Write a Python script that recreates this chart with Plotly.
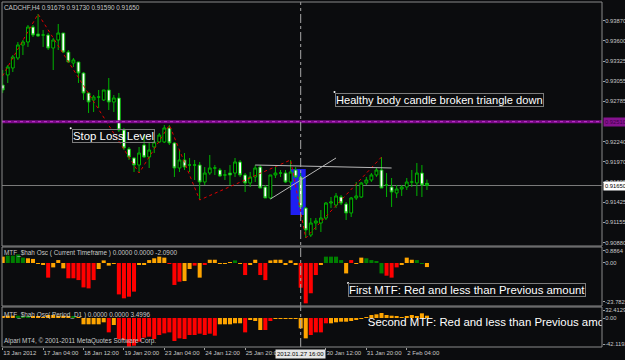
import plotly.graph_objects as go

# ---------------- data ----------------
symbol = "CADCHF,H4"
bars = list(range(85))
open_ = [0.93004, 0.93139, 0.93233, 0.93368, 0.93543, 0.93583, 0.93785, 0.93691, 0.93677, 0.93677,
         0.93502, 0.93610, 0.93704, 0.93448, 0.93300, 0.93314, 0.93165, 0.92896, 0.92802, 0.92842,
         0.92802, 0.92937, 0.92775, 0.92829, 0.92398, 0.92142, 0.92021, 0.91926, 0.92196, 0.92034,
         0.92169, 0.92236, 0.92236, 0.92425, 0.92223, 0.91886, 0.91994, 0.91926, 0.91926, 0.91926,
         0.91697, 0.91818, 0.91886, 0.91859, 0.91792, 0.91818, 0.91818, 0.91967, 0.91792, 0.91684,
         0.91765, 0.91899, 0.91630, 0.91482, 0.91792, 0.91818, 0.91818, 0.91697, 0.91859, 0.91765,
         0.91347, 0.90983, 0.91145, 0.91145, 0.91212, 0.91414, 0.91387, 0.91495, 0.91401, 0.91280,
         0.91482, 0.91495, 0.91684, 0.91724, 0.91792, 0.91859, 0.91657, 0.91630, 0.91549, 0.91603,
         0.91630, 0.91697, 0.91684, 0.91818, 0.91679]
high = [0.93206, 0.93273, 0.93408, 0.93583, 0.93610, 0.93812, 0.93812, 0.93960, 0.93745, 0.93704,
        0.93637, 0.93826, 0.93704, 0.93475, 0.93368, 0.93314, 0.93179, 0.92910, 0.92869, 0.92937,
        0.92937, 0.93098, 0.92869, 0.92896, 0.92425, 0.92169, 0.92034, 0.92169, 0.92330, 0.92223,
        0.92290, 0.92357, 0.92465, 0.92465, 0.92236, 0.92128, 0.92088, 0.92021, 0.91994, 0.91967,
        0.91899, 0.92061, 0.91926, 0.91886, 0.91859, 0.91926, 0.92021, 0.91994, 0.91818, 0.91832,
        0.91926, 0.91926, 0.91657, 0.91792, 0.91899, 0.91859, 0.91859, 0.91994, 0.91899, 0.91818,
        0.91361, 0.91212, 0.91212, 0.91320, 0.91428, 0.91495, 0.91549, 0.91522, 0.91428, 0.91495,
        0.91697, 0.91697, 0.91765, 0.91818, 0.91886, 0.92034, 0.91818, 0.91751, 0.91657, 0.91657,
        0.91751, 0.91859, 0.91953, 0.91926, 0.91730]
low = [0.92896, 0.93031, 0.93179, 0.93341, 0.93408, 0.93516, 0.93650, 0.93650, 0.93516, 0.93475,
       0.93206, 0.93475, 0.93435, 0.93300, 0.93246, 0.93031, 0.92802, 0.92627, 0.92640, 0.92694,
       0.92788, 0.92667, 0.92640, 0.92371, 0.92128, 0.91994, 0.91832, 0.91818, 0.92021, 0.91886,
       0.92088, 0.92223, 0.92223, 0.92196, 0.91765, 0.91832, 0.91859, 0.91832, 0.91724, 0.91455,
       0.91657, 0.91792, 0.91792, 0.91765, 0.91724, 0.91657, 0.91765, 0.91765, 0.91563, 0.91630,
       0.91697, 0.91616, 0.91482, 0.91468, 0.91751, 0.91765, 0.91684, 0.91590, 0.91751, 0.91347,
       0.90943, 0.90956, 0.91051, 0.91024, 0.91185, 0.91347, 0.91347, 0.91387, 0.91185, 0.91226,
       0.91455, 0.91482, 0.91657, 0.91697, 0.91765, 0.91616, 0.91495, 0.91361, 0.91482, 0.91509,
       0.91590, 0.91630, 0.91509, 0.91495, 0.91590]
close = [0.92937, 0.93246, 0.93381, 0.93543, 0.93583, 0.93785, 0.93677, 0.93664, 0.93677, 0.93502,
         0.93610, 0.93704, 0.93448, 0.93314, 0.93341, 0.93165, 0.92896, 0.92775, 0.92842, 0.92842,
         0.92937, 0.92775, 0.92829, 0.92398, 0.92155, 0.92034, 0.91926, 0.92088, 0.92034, 0.92128,
         0.92236, 0.92330, 0.92425, 0.92223, 0.91886, 0.91994, 0.91899, 0.91926, 0.91926, 0.91697,
         0.91818, 0.91886, 0.91886, 0.91778, 0.91792, 0.91792, 0.91967, 0.91792, 0.91684, 0.91765,
         0.91886, 0.91616, 0.91482, 0.91792, 0.91818, 0.91818, 0.91697, 0.91832, 0.91765, 0.91361,
         0.91051, 0.91145, 0.91172, 0.91212, 0.91414, 0.91428, 0.91509, 0.91414, 0.91280, 0.91482,
         0.91509, 0.91684, 0.91724, 0.91792, 0.91859, 0.91616, 0.91657, 0.91563, 0.91603, 0.91630,
         0.91697, 0.91697, 0.91818, 0.91657, 0.91650]

# MTF Shah oscillator (current timeframe)
osc_cur = [3.9, 4.5, 4.5, 5.3, 3.3, 2.9, 2.5, -0.4, -0.8, -9.0,
           -2.7, 1.8, -3.3, -9.4, -9.4, -10.5, -15.0, -15.6, -10.5, -3.7,
           1.6, -1.6, -0.4, -19.3, -21.7, -20.7, -17.6, -0.8, -0.8, 1.8,
           2.9, 3.9, 3.3, -0.4, -13.5, -11.5, -11.1, -3.7, -1.6, -9.0,
           -0.8, 2.0, 2.0, -0.4, -0.4, 0.3, 1.6, -0.4, -7.4, -1.2,
           2.0, -7.4, -10.5, 1.6, 2.0, 2.0, -0.8, 1.6, -1.2, -15.2,
           -24.8, -18.6, -7.4, -0.8, 3.9, 3.9, 3.9, 1.8, -6.4, 1.8,
           -0.4, 3.3, 2.9, 1.8, 0.8, -6.4, -7.8, -9.0, -2.7, -0.8,
           3.3, 2.0, 1.8, -0.4, -2.5]
osc_cur_state = list("oggggoooorooorrrrrroooorrrroooooorrroororooooogoroorroooooorrrroggggorooggggrrroooggoo")
# MTF Shah oscillator (Period D1)
osc_d1 = [2.1, 3.7, 3.7, 3.7, 2.1, 2.1, 2.1, 2.1, 1.6, 4.8,
          4.8, 3.7, 3.7, 2.1, 2.1, 1.6, -10.1, -10.1, -10.1, -10.1,
          -6.9, -23.0, -11.2, -33.6, -35.2, -46.0, -44.3, -37.9, -31.5, -29.9,
          -33.6, -27.2, -24.6, -23.0, -36.8, -32.6, -33.6, -27.2, -27.2, -25.1,
          -27.2, -25.1, -28.3, -10.1, -10.1, -10.1, -8.5, -8.5, -23.0, -3.2,
          -4.8, -19.2, -19.2, -4.8, -1.6, -1.6, -1.6, -1.6, -1.6, -16.6,
          -32.6, -27.2, -23.0, -23.0, -8.5, -8.5, -6.9, -5.9, -5.9, -4.8,
          -2.7, -1.6, 1.6, 4.8, 5.9, 8.0, 4.8, 3.7, 2.1, 1.6,
          2.1, 4.8, 2.1, 7.5, 3.7]
osc_d1_state = list("ooogggoooooooogooooooro" + "r" * 20 + "ooooorooorrooooooorrrr" + "o" * 21)

zigzag_bar = [-3, 7, 27, 33, 39, 57, 60, 75]
zigzag_price = [0.92775, 0.93960, 0.91818, 0.92465, 0.91455, 0.91994, 0.90943, 0.92034]

stop_loss = 0.92510
tri_upper_bar = [50, 77]
tri_upper_price = [0.91926, 0.91886]
tri_lower_bar = [53, 66]
tri_lower_price = [0.91468, 0.92021]
box_bar = [57, 60]
box_price = [0.91253, 0.91872]
cross_bar = 59
cross_label = "2012.01.27 16:00"

price_ticks = [0.93870, 0.93600, 0.93325, 0.93055, 0.92785, 0.92240, 0.91970, 0.91695, 0.91425, 0.91155, 0.90880]
osc1_ticks = [7.56, 0.0, -23.7822]
osc1_tick_text = ["0.8864", "0.00", "-23.7822"]
osc2_ticks = [12.5, -0.5, -42.1192]
osc2_tick_text = ["32.4129", "0.00", "-42.1192"]
time_tick_bars = [0, 8, 16, 24, 32, 40, 48, 64, 72, 80]
time_tick_text = ["13 Jan 2012", "17 Jan 04:00", "18 Jan 12:00", "19 Jan 20:00", "23 Jan 04:00",
                  "24 Jan 12:00", "25 Jan 20:00", "30 Jan 12:00", "31 Jan 20:00", "2 Feb 04:00"]

# ---------------- style ----------------
BG = "#0b0c0e"
FONT = "Liberation Sans, Arial, sans-serif"
TXT = "#c8c8c8"
BORDER = "#8a8a8a"
CANDLE = "#00b400"
state_color = {"g": "#007f00", "o": "#ffa500", "r": "#ff0000"}

fig = go.Figure()

fig.add_trace(go.Candlestick(
    x=bars, open=open_, high=high, low=low, close=close,
    increasing=dict(line=dict(color=CANDLE, width=1), fillcolor="#000000"),
    decreasing=dict(line=dict(color=CANDLE, width=1), fillcolor="#ffffff"),
    whiskerwidth=0, xaxis="x", yaxis="y", showlegend=False, hoverinfo="skip"))

fig.add_trace(go.Scatter(
    x=zigzag_bar, y=zigzag_price, mode="lines", xaxis="x", yaxis="y",
    line=dict(color="#e00000", width=1, dash="dot"), showlegend=False, hoverinfo="skip"))

fig.add_trace(go.Bar(
    x=bars, y=osc_cur, marker=dict(color=[state_color[s] for s in osc_cur_state], line=dict(width=0)),
    width=0.8, xaxis="x", yaxis="y2", showlegend=False, hoverinfo="skip"))

fig.add_trace(go.Bar(
    x=bars, y=osc_d1, marker=dict(color=[state_color[s] for s in osc_d1_state], line=dict(width=0)),
    width=0.8, xaxis="x", yaxis="y3", showlegend=False, hoverinfo="skip"))

# clipped text in the second indicator window
fig.add_trace(go.Scatter(
    x=[72.3], y=[-8.0], mode="text", text=["Second MTF: Red and less than Previous amount"],
    textposition="middle right", textfont=dict(family=FONT, size=11.4, color="#ffffff"),
    xaxis="x", yaxis="y3", cliponaxis=True, showlegend=False, hoverinfo="skip"))

# anchor dots of the text objects
fig.add_trace(go.Scatter(x=[65.7, 13.46], y=[0.92910, 0.92421], mode="markers",
                         marker=dict(size=2, color="#ffffff"), xaxis="x", yaxis="y",
                         showlegend=False, hoverinfo="skip"))
fig.add_trace(go.Scatter(x=[68.38], y=[-12.3], mode="markers",
                         marker=dict(size=2, color="#ffffff"), xaxis="x", yaxis="y2",
                         showlegend=False, hoverinfo="skip"))

shapes = []
shapes.append(dict(type="rect", xref="x", yref="y", x0=box_bar[0], x1=box_bar[1],
                   y0=box_price[0], y1=box_price[1], fillcolor="#1f1ff2", line=dict(width=0), layer="below"))
shapes.append(dict(type="line", xref="x domain", yref="y", x0=0, x1=1, y0=close[-1], y1=close[-1],
                   line=dict(color="#7a7a7a", width=1), layer="below"))
shapes.append(dict(type="line", xref="x", yref="y", x0=tri_upper_bar[0], x1=tri_upper_bar[1],
                   y0=tri_upper_price[0], y1=tri_upper_price[1], line=dict(color="#b8b8b8", width=1)))
shapes.append(dict(type="line", xref="x", yref="y", x0=tri_lower_bar[0], x1=tri_lower_bar[1],
                   y0=tri_lower_price[0], y1=tri_lower_price[1], line=dict(color="#b8b8b8", width=1)))
shapes.append(dict(type="line", xref="x domain", yref="y", x0=0, x1=1, y0=stop_loss, y1=stop_loss,
                   line=dict(color="#7a0a86", width=3)))
shapes.append(dict(type="line", xref="x domain", yref="y", x0=0, x1=1, y0=stop_loss, y1=stop_loss,
                   line=dict(color="#c23ad0", width=1, dash="dot")))
shapes.append(dict(type="line", xref="x", yref="paper", x0=cross_bar, x1=cross_bar, y0=0, y1=1,
                   line=dict(color="#a8a8a8", width=1, dash="dashdot")))
for ya in ["y", "y2", "y3"]:
    shapes.append(dict(type="rect", xref="x domain", yref=ya + " domain", x0=0, x1=1, y0=0, y1=1,
                       line=dict(color=BORDER, width=1), fillcolor="rgba(0,0,0,0)"))

ann = []
small = dict(family=FONT, size=6.4, color=TXT)
ann.append(dict(xref="paper", yref="paper", x=0, y=1, xanchor="left", yanchor="top", xshift=1, yshift=-1,
                text=f"{symbol} {open_[-1]:.5f} {high[-1]:.5f} {low[-1]:.5f} {close[-1]:.5f}",
                showarrow=False, font=small, borderpad=0))
ann.append(dict(xref="x domain", yref="y2 domain", x=0, y=1, xanchor="left", yanchor="top", xshift=1, yshift=-1,
                text="MTF_$hah Osc ( Current Timeframe ) 0.0000 0.0000 -2.0900",
                showarrow=False, font=small, borderpad=0))
ann.append(dict(xref="x domain", yref="y3 domain", x=0, y=1, xanchor="left", yanchor="top", xshift=1, yshift=-3,
                text="MTF_$hah Osc( Period_D1 ) 0.0000 0.0000 3.4996",
                showarrow=False, font=small, borderpad=0))
ann.append(dict(xref="x domain", yref="y3 domain", x=0, y=0, xanchor="left", yanchor="bottom", xshift=1, yshift=1,
                text="Alpari MT4, © 2001-2011 MetaQuotes Software Corp.",
                showarrow=False, font=small, borderpad=0))
big = dict(family=FONT, size=11.4, color="#ffffff")
ann.append(dict(xref="x", yref="y", x=65.7, y=0.92896, xanchor="left", yanchor="top",
                text="Healthy body candle broken triangle down", showarrow=False,
                font=dict(family=FONT, size=11.1, color="#ffffff"),
                bordercolor="#7c7c7c", borderwidth=1, borderpad=0))
ann.append(dict(xref="x", yref="y", x=13.66, y=0.92411, xanchor="left", yanchor="top",
                text="Stop Loss Level", showarrow=False, font=big,
                bordercolor="#7c7c7c", borderwidth=1, borderpad=0))
ann.append(dict(xref="x", yref="y2", x=68.38, y=-12.3, xanchor="left", yanchor="top",
                text="First MTF: Red and less than Previous amount", showarrow=False, font=big,
                bordercolor="#7c7c7c", borderwidth=1, borderpad=0))
ann.append(dict(xref="paper", yref="y", x=1, y=stop_loss, xanchor="left", yanchor="middle", xshift=1,
                text=f"{stop_loss:.5f}", showarrow=False, bgcolor="#86128f",
                font=dict(family=FONT, size=5.8, color="#40004a"), borderpad=1))
ann.append(dict(xref="paper", yref="y", x=1, y=close[-1], xanchor="left", yanchor="middle", xshift=1,
                text=f"{close[-1]:.5f}", showarrow=False, bgcolor="#ffffff",
                font=dict(family=FONT, size=5.8, color="#000000"), borderpad=1))
ann.append(dict(xref="x", yref="paper", x=cross_bar, y=0, xanchor="center", yanchor="top", yshift=-2,
                text=cross_label, showarrow=False, bgcolor="#e6e6e6",
                font=dict(family=FONT, size=6, color="#000000"), borderpad=1))

tickfont = dict(family=FONT, size=5.8, color=TXT)
yax_common = dict(side="right", anchor="x", showgrid=False, zeroline=False, showline=False,
                  ticks="outside", ticklen=2, tickcolor="#a0a0a0", tickfont=tickfont,
                  ticklabelstandoff=-1,
                  tickmode="array", fixedrange=True, automargin=False)

fig.update_layout(
    width=625, height=360,
    margin=dict(l=2, r=23, t=2, b=13, autoexpand=False),
    paper_bgcolor=BG, plot_bgcolor=BG,
    barmode="overlay", boxgap=0.25, boxgroupgap=0.25,
    showlegend=False,
    xaxis=dict(range=[-0.14, 118.66], anchor="y3", showgrid=False, zeroline=False, showline=False,
               tickmode="array", tickvals=time_tick_bars, ticktext=time_tick_text, tickangle=0,
               ticks="outside", ticklen=2, tickcolor="#a0a0a0", automargin=False,
               tickfont=dict(family=FONT, size=6, color=TXT), ticklabelposition="outside right",
               rangeslider=dict(visible=False), fixedrange=True),
    yaxis=dict(domain=[0.29275, 1.0], range=[0.908352, 0.941219],
               tickvals=price_ticks, ticktext=[f"{v:.5f}" for v in price_ticks], **yax_common),
    yaxis2=dict(domain=[0.11884, 0.28986], range=[-26.43, 9.834],
                tickvals=osc1_ticks, ticktext=osc1_tick_text, **yax_common),
    yaxis3=dict(domain=[0.0, 0.11594], range=[-46.44, 17.62],
                tickvals=osc2_ticks, ticktext=osc2_tick_text, **yax_common),
    shapes=shapes, annotations=ann,
)

fig.write_html("out.html", config={"displayModeBar": False})
